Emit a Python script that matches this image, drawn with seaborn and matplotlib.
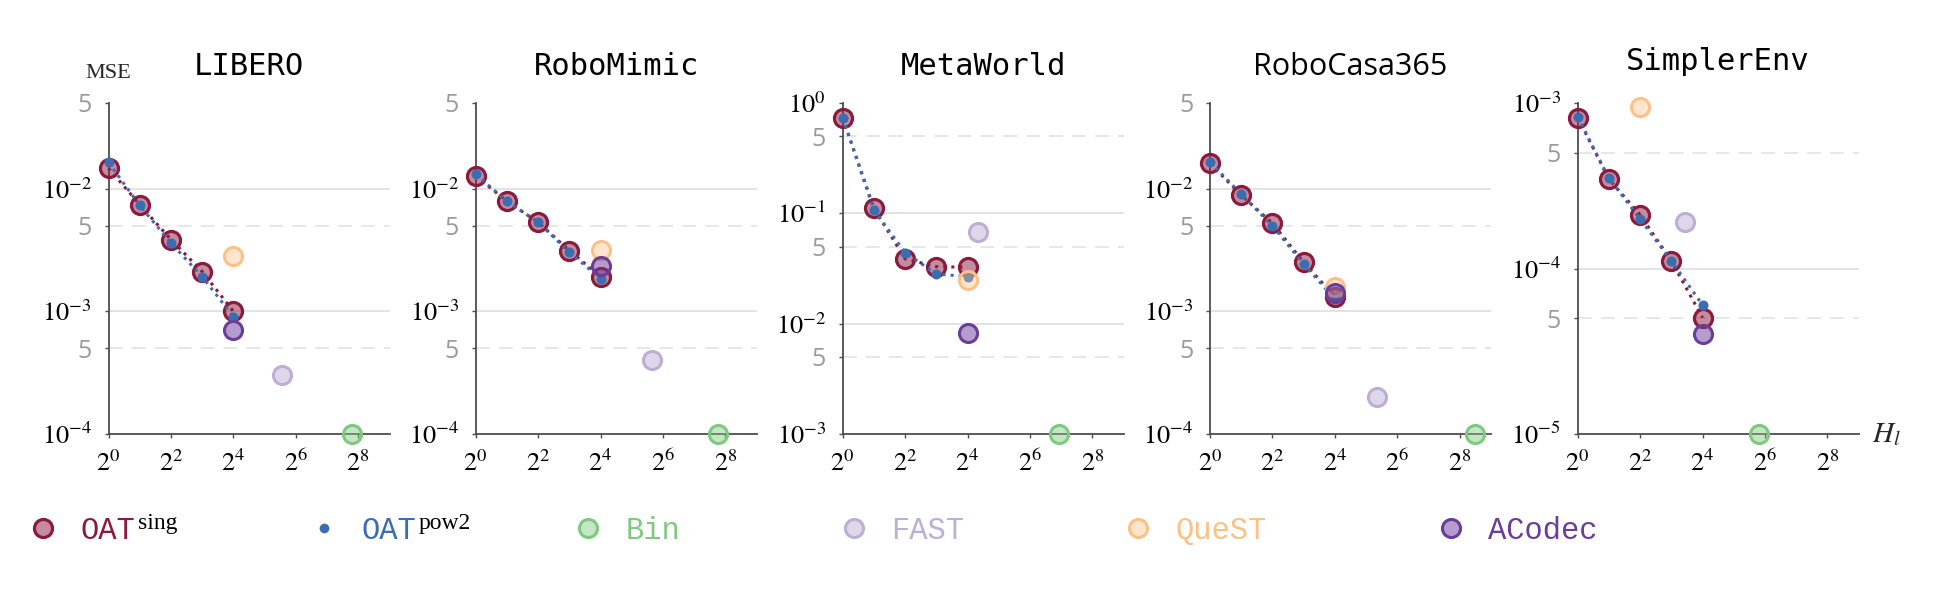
import numpy as np
import matplotlib
matplotlib.use("Agg")
import matplotlib.pyplot as plt
from matplotlib.lines import Line2D
from matplotlib.ticker import NullLocator
import seaborn as sns

# ---- values ----
benchmarks = ["LIBERO", "RoboMimic", "MetaWorld", "RoboCasa365", "SimplerEnv"]
oat_x = [1, 2, 4, 8, 16]

libero_sing = [1.47e-2, 7.42e-3, 3.85e-3, 2.11e-3, 1.00e-3]
libero_pow2 = [1.64e-2, 7.30e-3, 3.61e-3, 1.92e-3, 9.05e-4]
robomimic_sing = [1.27e-2, 7.91e-3, 5.33e-3, 3.13e-3, 1.92e-3]
robomimic_pow2 = [1.31e-2, 7.90e-3, 5.33e-3, 3.03e-3, 1.85e-3]
metaworld_sing = [0.736, 0.111, 3.86e-2, 3.29e-2, 3.24e-2]
metaworld_pow2 = [0.736, 0.107, 4.40e-2, 2.82e-2, 2.67e-2]
robocasa_sing = [1.61e-2, 8.85e-3, 5.23e-3, 2.51e-3, 1.32e-3]
robocasa_pow2 = [1.65e-2, 9.03e-3, 4.97e-3, 2.43e-3, 1.26e-3]
simpler_sing = [8.15e-4, 3.47e-4, 2.11e-4, 1.11e-4, 5.04e-5]
simpler_pow2 = [8.27e-4, 3.51e-4, 1.99e-4, 1.11e-4, 6.02e-5]

sing_series = [libero_sing, robomimic_sing, metaworld_sing, robocasa_sing, simpler_sing]
pow2_series = [libero_pow2, robomimic_pow2, metaworld_pow2, robocasa_pow2, simpler_pow2]

# baselines, one value per benchmark
bin_x = [222, 218, 121, 362, 56]
bin_y = [1e-4, 1e-4, 1e-3, 1e-4, 1e-5]
fast_x = [47.5, 50, 20, 40.6, 10.9]
fast_y = [3.0e-4, 4.0e-4, 6.8e-2, 2.0e-4, 1.9e-4]
quest_x = [16, 16, 16, 16, 4]
quest_y = [2.83e-3, 3.17e-3, 2.49e-2, 1.57e-3, 9.46e-4]
acodec_x = [16, 16, 16, 16, 16]
acodec_y = [7.05e-4, 2.35e-3, 8.28e-3, 1.42e-3, 4.02e-5]

ylims = [(1e-4, 5e-2), (1e-4, 5e-2), (1e-3, 1.0), (1e-4, 5e-2), (1e-5, 1e-3)]
xtick_vals = [1, 4, 16, 64, 256]
xtick_labels = [r"$2^{0}$", r"$2^{2}$", r"$2^{4}$", r"$2^{6}$", r"$2^{8}$"]

# ---- styling ----
RED = "#8b1a3e"
BLUE = "#3a6db2"
GREEN = "#7fc97f"
LAV = "#beaed4"
ORANGE = "#fdc086"
PURPLE = "#6a3d9a"
SPINE = "#4d4d4d"
GRID = "#e0e0e0"

def rgba(c, a):
    r, g, b = matplotlib.colors.to_rgb(c)
    return (r, g, b, a)

baselines = [
    ("Bin", bin_x, bin_y, GREEN, 0.45),
    ("FAST", fast_x, fast_y, LAV, 0.5),
    ("QueST", quest_x, quest_y, ORANGE, 0.4),
    ("ACodec", acodec_x, acodec_y, PURPLE, 0.5),
]

sns.set_theme(style="white")
plt.rcParams["font.family"] = ["DejaVu Sans"]
plt.rcParams["mathtext.fontset"] = "stix"

W, H = 1947, 593
fig = plt.figure(figsize=(W / 100, H / 100), dpi=100)
fig.patch.set_facecolor("white")

lefts = [108.5, 475.7, 842.7, 1210, 1577.7]
ax_w, ax_top, ax_bot = 281, 103, 434

S_BIG = 169
S_DOT = 52

for i, name in enumerate(benchmarks):
    ax = fig.add_axes([lefts[i] / W, 1 - ax_bot / H, ax_w / W, (ax_bot - ax_top) / H])
    ax.set_facecolor("white")
    ax.set_xscale("log", base=2)
    ax.set_yscale("log")
    lo, hi = ylims[i]

    # grid lines (solid at decades, dashed at 5x)
    yt, yl = [], []
    for e in range(int(np.floor(np.log10(lo))), int(np.ceil(np.log10(hi))) + 1):
        for m in (1, 5):
            v = m * 10.0 ** e
            if lo * 0.999 <= v <= hi * 1.001:
                yt.append(v)
                yl.append(r"$10^{%d}$" % e if m == 1 else "5")
                if lo * 1.001 < v < hi * 0.999:
                    if m == 1:
                        ax.axhline(v, color=GRID, lw=1.3, zorder=0)
                    else:
                        ax.axhline(v, color=GRID, lw=1.1, ls=(0, (9, 6)), zorder=0)

    sns.lineplot(x=oat_x, y=sing_series[i], ax=ax, color=RED, lw=2.2, ls=":",
                 errorbar=None, sort=False, zorder=2, clip_on=False)
    sns.scatterplot(x=oat_x, y=sing_series[i], ax=ax, s=S_BIG, color=rgba(RED, 0.5),
                    edgecolor=RED, linewidth=2.3, zorder=3, clip_on=False)
    sns.lineplot(x=oat_x, y=pow2_series[i], ax=ax, color=BLUE, lw=2.2, ls=":",
                 errorbar=None, sort=False, zorder=4, clip_on=False)
    sns.scatterplot(x=oat_x, y=pow2_series[i], ax=ax, s=S_DOT, color=BLUE,
                    edgecolor=BLUE, linewidth=0, zorder=5, clip_on=False)
    for bname, bx, by, bc, ba in baselines:
        sns.scatterplot(x=[bx[i]], y=[by[i]], ax=ax, s=S_BIG, color=rgba(bc, ba),
                        edgecolor=bc, linewidth=2.2, zorder=6, clip_on=False)

    ax.set_xlim(1, 2 ** 9)
    ax.set_ylim(lo, hi)
    ax.set_xticks(xtick_vals, labels=xtick_labels)
    ax.set_yticks(yt, labels=yl)
    ax.xaxis.set_minor_locator(NullLocator())
    ax.yaxis.set_minor_locator(NullLocator())
    ax.tick_params(axis="both", direction="out", length=3, width=1, color=SPINE, bottom=True, left=True)
    ax.tick_params(axis="y", pad=9)
    ax.tick_params(axis="x", pad=9, labelsize=19, labelcolor="black")
    for t, lab in zip(ax.get_yticklabels(), yl):
        if lab == "5":
            t.set_color("#9a9a9a")
            t.set_fontfamily("Open Sans")
            t.set_fontsize(18)
        else:
            t.set_color("black")
            t.set_fontsize(19)

    for sp in ("top", "right"):
        ax.spines[sp].set_visible(False)
    for sp in ("left", "bottom"):
        ax.spines[sp].set_color(SPINE)
        ax.spines[sp].set_linewidth(1.3)
    ax.set_xlabel("")
    ax.set_ylabel("")

    tfam = "Open Sans" if name == "RoboCasa365" else "DejaVu Sans Mono"
    ax.set_title(name, fontsize=22, family=tfam, pad=24 if name == "SimplerEnv" else 20,
                 color="black")

    if i == 0:
        ax.text(0, 1.088, "MSE", transform=ax.transAxes, ha="center", va="center",
                fontsize=16, family="Liberation Serif")
    if i == len(benchmarks) - 1:
        ax.text(1.10, 0.0, r"$H_l$", transform=ax.transAxes, ha="center", va="center",
                fontsize=21)

# ---- legend: one entry each, placed along the bottom ----
leg_entries = [
    ("OAT", Line2D([], [], marker="o", ls="", markersize=13, markerfacecolor=rgba(RED, 0.5),
                   markeredgecolor=RED, markeredgewidth=2.3), RED),
    ("OAT", Line2D([], [], marker="o", ls="", markersize=7, markerfacecolor=BLUE,
                   markeredgecolor=BLUE, markeredgewidth=0), BLUE),
]
for bname, bx, by, bc, ba in baselines:
    leg_entries.append((bname, Line2D([], [], marker="o", ls="", markersize=13,
                                      markerfacecolor=rgba(bc, ba), markeredgecolor=bc,
                                      markeredgewidth=2.2), bc))
leg_marker_x = [43, 324, 588, 854, 1138, 1451]

legs = []
fs = 22
for (lbl, h, c), mx in zip(leg_entries, leg_marker_x):
    half = 0.5 * fs * 100 / 72
    leg = fig.legend(handles=[h], labels=[lbl], loc="center left",
                     bbox_to_anchor=((mx - half) / W, 1 - 531 / H),
                     frameon=False, handlelength=1.0, handletextpad=0.72,
                     borderpad=0, borderaxespad=0,
                     prop={"family": "Liberation Mono", "size": fs})
    for t in leg.get_texts():
        t.set_color(c)
    legs.append(leg)

fig.canvas.draw()
for leg, sup in zip(legs[:2], ["sing", "pow2"]):
    bb = leg.get_texts()[0].get_window_extent()
    fig.text((bb.x1 + 3) / W, (bb.y0 + 0.55 * bb.height) / H, sup,
             ha="left", va="baseline", fontsize=17, family="Liberation Serif", color="black")

plt.savefig("out.png", dpi=100, facecolor="white")
plt.close()
